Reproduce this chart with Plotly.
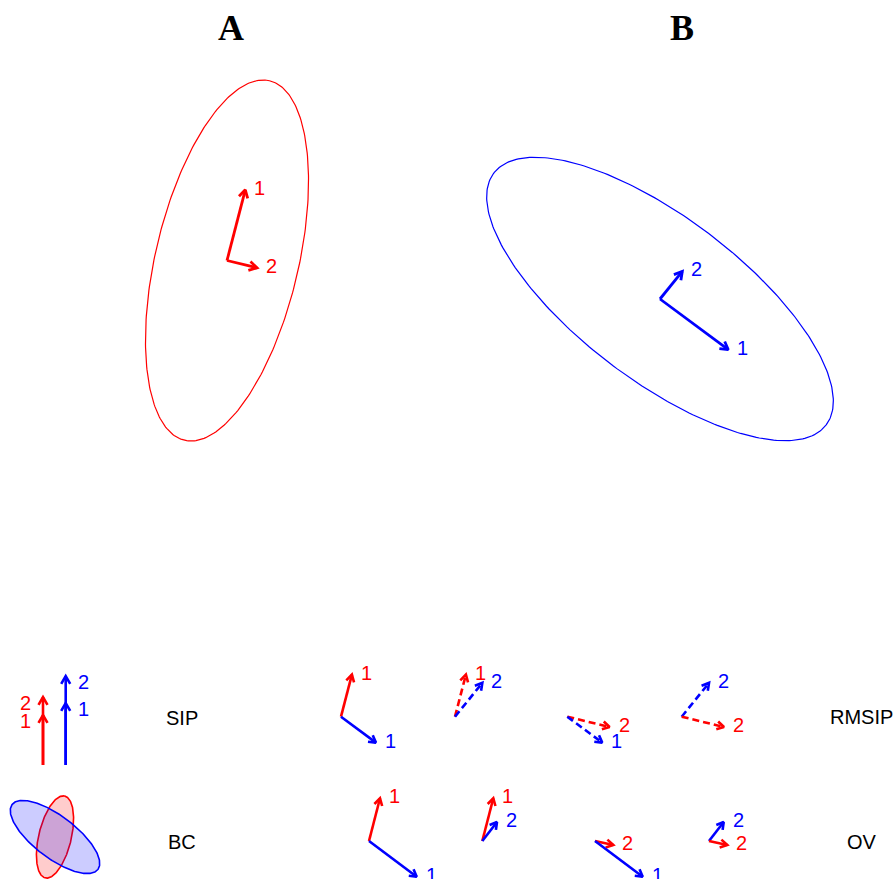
import numpy as np
import plotly.graph_objects as go

RED = "#FF0000"
BLUE = "#0000FF"

# ---------------- data ----------------
titles = ["A", "B"]
# covariance ellipses (semi-axes and orientation, screen units with y downward)
ellA_axes = [184.7, 71.5]
ellA_angle = -76.7
ellB_axes = [208.5, 81.6]
ellB_angle = 37.15
# principal vectors of A and B (PC1, PC2)
vecA = [[18.3, -70.7], [30.0, 7.3]]
vecB = [[68.3, 50.7], [22.3, -27.6]]
pc_labels = ["1", "2"]
# SIP bars (stacked cumulative lengths for PC1, PC2)
sip_red = [50, 68]
sip_blue = [62, 89]
# vectors scaled by their variance, used for the overlap (OV) row
ovA = [[11.0, -42.7], [18.3, 4.0]]
ovB = [[47.7, 35.7], [14.7, -19.0]]
# scale of the small ellipses in the BC panel
bc_scale = [0.228, 0.258]
row_names = ["SIP", "BC"]
right_names = ["RMSIP", "OV"]
# pairs compared in small panels: (matrix, pc index, dashed)
pairs = [
    [("A", 0, False), ("B", 0, False)],
    [("A", 0, True), ("B", 1, True)],
    [("A", 1, True), ("B", 0, True)],
    [("B", 1, True), ("A", 1, True)],
]

# ---------------- layout (positions) ----------------
centerA = (227.0, 260.5)
centerB = (660.0, 299.0)
title_pos = [(230.5, 27.5), (682.0, 27.5)]
sip_row_y = 716.7
ov_row_y = 841.0
sip_cols = [341.0, 455.0, 567.3, 681.7]
ov_cols = [369.0, 482.3, 595.0, 709.0]
unit_len = 43.5
bc_center = (55.0, 837.0)

fig = go.Figure()
annotations = []


def ellipse(cx, cy, a, b, ang_deg, n=300):
    t = np.linspace(0, 2 * np.pi, n)
    th = np.deg2rad(ang_deg)
    x = cx + a * np.cos(t) * np.cos(th) - b * np.sin(t) * np.sin(th)
    y = cy + a * np.cos(t) * np.sin(th) + b * np.sin(t) * np.cos(th)
    return x, y


def add_arrow(x0, y0, dx, dy, color, width=2.6, dash=None, head=8.5):
    x1, y1 = x0 + dx, y0 + dy
    th = np.arctan2(dy, dx)
    a = np.deg2rad(30)
    fig.add_trace(go.Scatter(x=[x0, x1], y=[y0, y1], mode="lines",
                             line=dict(color=color, width=width, dash=dash or "solid"),
                             hoverinfo="skip"))
    bx = [x1 - head * np.cos(th - a), x1, x1 - head * np.cos(th + a)]
    by = [y1 - head * np.sin(th - a), y1, y1 - head * np.sin(th + a)]
    fig.add_trace(go.Scatter(x=bx, y=by, mode="lines",
                             line=dict(color=color, width=width),
                             hoverinfo="skip"))


def label(x, y, text, color, size=20, xanchor="center"):
    annotations.append(dict(x=x, y=y, text=text, showarrow=False, xref="x", yref="y",
                            xanchor=xanchor, yanchor="middle",
                            font=dict(family="Liberation Sans, Arial", size=size, color=color)))


LAB_DX, LAB_DY = 14.5, -2.0

# ---- big panels ----
for (cx, cy), axes, ang, vecs, col in [
    (centerA, ellA_axes, ellA_angle, vecA, RED),
    (centerB, ellB_axes, ellB_angle, vecB, BLUE),
]:
    ex, ey = ellipse(cx, cy, axes[0], axes[1], ang)
    fig.add_trace(go.Scatter(x=ex, y=ey, mode="lines", line=dict(color=col, width=1.2),
                             hoverinfo="skip"))
    for k, (dx, dy) in enumerate(vecs):
        add_arrow(cx, cy, dx, dy, col, width=2.8, head=9)
        label(cx + dx + LAB_DX, cy + dy + LAB_DY, pc_labels[k], col)

for t, (tx, ty) in zip(titles, title_pos):
    annotations.append(dict(x=tx, y=ty, text="<b>%s</b>" % t, showarrow=False,
                            xref="x", yref="y", xanchor="center", yanchor="middle",
                            font=dict(family="Liberation Serif, Times New Roman", size=36,
                                      color="black")))

# ---- SIP column (stacked vertical arrows) ----
base_y = 765.0
for xpos, lens, col, side in [(43.0, sip_red, RED, -1), (65.7, sip_blue, BLUE, 1)]:
    for k, L in enumerate(lens):
        add_arrow(xpos, base_y, 0, -L, col, width=2.6, head=9)
        label(xpos + side * 18, base_y - L + 5.5, pc_labels[k], col)

# ---- BC ellipses ----
for axes, ang, col, fillc, s in [
    (ellA_axes, ellA_angle, RED, "rgba(255,0,0,0.2)", bc_scale[0]),
    (ellB_axes, ellB_angle, BLUE, "rgba(0,0,255,0.2)", bc_scale[1]),
]:
    ex, ey = ellipse(bc_center[0], bc_center[1], axes[0] * s, axes[1] * s, ang)
    fig.add_trace(go.Scatter(x=ex, y=ey, mode="lines", fill="toself", fillcolor=fillc,
                             line=dict(color=col, width=1.6), hoverinfo="skip"))


def unit(v):
    v = np.asarray(v, float)
    return v / np.linalg.norm(v)


# ---- SIP / RMSIP row (unit vectors) and OV row (scaled vectors) ----
for ci, pair in enumerate(pairs):
    for (m, k, dashed) in pair:
        col = RED if m == "A" else BLUE
        # SIP row
        u = unit((vecA if m == "A" else vecB)[k]) * unit_len
        x0, y0 = sip_cols[ci], sip_row_y
        add_arrow(x0, y0, u[0], u[1], col, width=2.6,
                  dash="7px,4px" if dashed else None, head=8)
        label(x0 + u[0] + LAB_DX, y0 + u[1] - 2, pc_labels[k], col)
        # OV row
        v = (ovA if m == "A" else ovB)[k]
        x0, y0 = ov_cols[ci], ov_row_y
        add_arrow(x0, y0, v[0], v[1], col, width=2.6, head=8)
        label(x0 + v[0] + LAB_DX, y0 + v[1] - 2, pc_labels[k], col)

# ---- row names ----
label(182.0, 718.3, row_names[0], "black")
label(182.0, 841.7, row_names[1], "black")
label(861.5, 717.3, right_names[0], "black")
label(861.5, 841.7, right_names[1], "black")

fig.update_layout(
    width=895, height=879,
    margin=dict(l=0, r=0, t=0, b=0),
    paper_bgcolor="white", plot_bgcolor="white",
    showlegend=False,
    xaxis=dict(range=[0, 895], visible=False, fixedrange=True),
    yaxis=dict(range=[879, 0], visible=False, fixedrange=True),
    annotations=annotations,
)

fig.write_html("out.html", config={"displayModeBar": False},
               post_script="document.body.style.margin='0';")
